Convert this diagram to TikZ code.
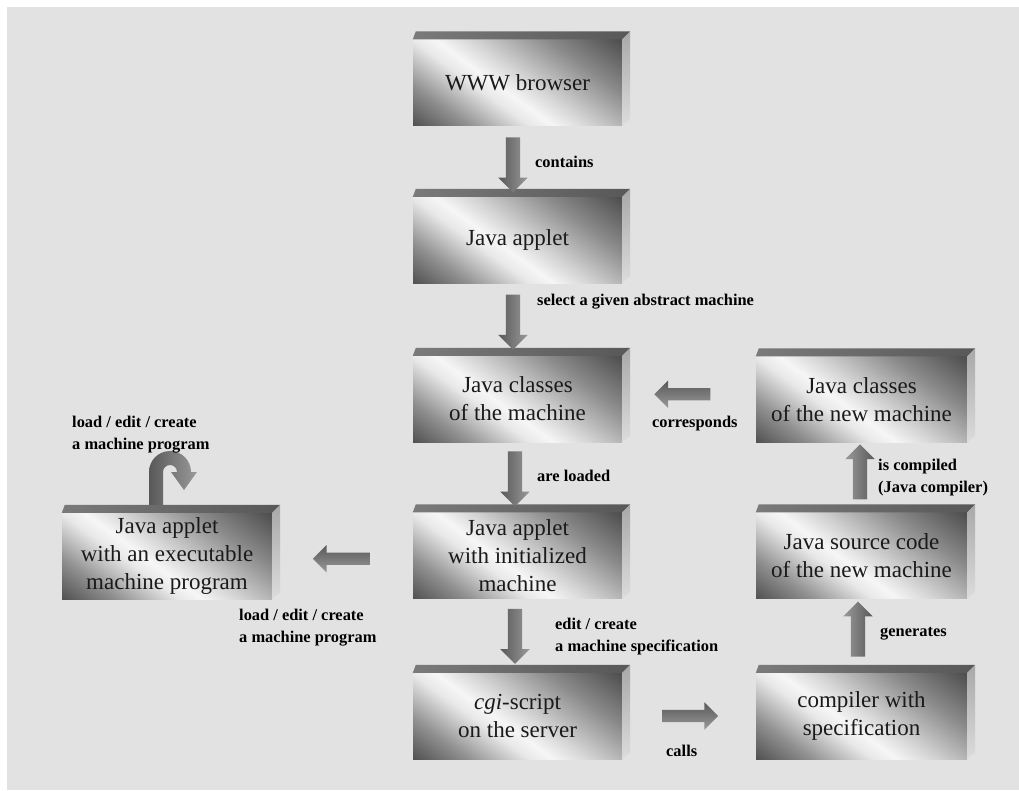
\documentclass[tikz,border=0pt]{standalone}
\usepackage{fontspec}
\setmainfont{Liberation Serif}
\usetikzlibrary{shapes.arrows,calc}
\definecolor{bg}{HTML}{E2E2E2}
\definecolor{c0}{HTML}{505050}
\definecolor{c1}{HTML}{909090}
\definecolor{c2}{HTML}{E8E8E8}
\definecolor{c3}{HTML}{F6F6F6}
\definecolor{c4}{HTML}{D4D4D4}
\definecolor{c5}{HTML}{8A8A8A}
\definecolor{c6}{HTML}{4C4C4C}
\definecolor{bevL}{HTML}{7A7A7A}
\definecolor{bevR}{HTML}{585858}
\definecolor{sideT}{HTML}{A8A8A8}
\definecolor{sideB}{HTML}{DCDCDC}
\definecolor{arD}{HTML}{585858}
\definecolor{arL}{HTML}{9A9A9A}
\definecolor{boxtext}{HTML}{1A1A1A}
\pgfdeclareverticalshading{boxshade}{100bp}{color(0bp)=(c0); color(15bp)=(c0); color(27bp)=(c1); color(40bp)=(c2); color(45bp)=(c3); color(53bp)=(c4); color(69bp)=(c5); color(85bp)=(c6); color(100bp)=(c6)}
\newcommand\boxbevel[1]{%
  \shade[left color=bevL, right color=bevR] (#1.north west) -- ([shift={(3,-8)}]#1.north west) -- ([shift={(8,-8)}]#1.north east) -- (#1.north east) -- cycle;
  \shade[top color=sideT, bottom color=sideB] (#1.north east) -- ([shift={(8,-8)}]#1.north east) -- ([shift={(8,-7)}]#1.south east) -- (#1.south east) -- cycle;
}
\begin{document}
\begin{tikzpicture}[x=1pt,y=-1pt,
  frontbox/.style={rectangle, shading=boxshade, shading angle=-36, minimum width=209pt, minimum height=86pt, inner sep=0pt, align=center, text=boxtext, font=\fontsize{23}{28}\selectfont},
  fatarrow/.style={single arrow, draw=none, minimum height=55pt, inner sep=7pt, single arrow head extend=7.5pt, single arrow head indent=0pt, single arrow tip angle=90, left color=arD, right color=arL},
  harrow/.style={single arrow, draw=none, minimum height=56pt, inner sep=6pt, single arrow head extend=7.5pt, single arrow head indent=0pt, single arrow tip angle=90, top color=arD, bottom color=arL},
  lbl/.style={anchor=west, align=left, inner sep=0pt, text=black, font=\bfseries\fontsize{16.4}{22}\selectfont}]
\useasboundingbox (0,0) rectangle (1019,790);
\fill[white] (0,0) rectangle (1019,790);
\fill[bg] (7,7) rectangle (1019,790);

% curved arrow (drawn first so the box covers its base)
\shade[left color=arD, right color=arL] (149,510) -- (149,472) arc[start angle=180, end angle=360, radius=21] -- (197,472) -- (184,490) -- (171,472) -- (177,472) arc[start angle=360, end angle=180, radius=7] -- (163,510) -- cycle;

% boxes
\node[frontbox] (b1) at (517.5,82.5) {WWW browser};
\node[frontbox] (b2) at (517.5,240) {Java applet};
\node[frontbox] (b3) at (517.5,399) {Java classes\\of the machine};
\node[frontbox] (b4) at (517.5,555.5) {Java applet\\with initialized\\machine};
\node[frontbox] (b5) at (517.5,716) {\textit{cgi}-script\\on the server};
\node[frontbox, minimum width=210pt] (L) at (167,556) {Java applet\\with an executable\\machine program};
\node[frontbox, minimum width=211pt] (r1) at (861.5,399.5) {Java classes\\of the new machine};
\node[frontbox, minimum width=211pt] (r2) at (861.5,555.5) {Java source code\\of the new machine};
\node[frontbox, minimum width=211pt] (r3) at (861.5,716) {compiler with\\specification};
\foreach \n in {b1,b2,b3,b4,b5,L,r1,r2,r3} {\boxbevel{\n}}

% block arrows
\node[fatarrow, shape border rotate=270] (a1) at ($(b1.south)!0.5!(b2.north)+(-4.5,0)$) {};
\node[fatarrow, shape border rotate=270] (a2) at ($(b2.south)!0.5!(b3.north)+(-4.5,-1)$) {};
\node[fatarrow, shape border rotate=270] (a3) at ($(b3.south)!0.5!(b4.north)+(-2.5,-2)$) {};
\node[fatarrow, shape border rotate=270] (a4) at ($(b4.south)!0.5!(b5.north)+(-2.5,-3)$) {};
\node[harrow, shape border rotate=180] (a5) at ($(b3.east)!0.5!(r1.west)+(-3.5,-5)$) {};
\node[harrow, shape border rotate=180, minimum height=57pt] (a6) at ($(L.east)!0.5!(b4.west)+(2,3)$) {};
\node[harrow] (a7) at ($(b5.east)!0.5!(r3.west)+(-2,0)$) {};
\node[fatarrow, shape border rotate=90, left color=arL, right color=arD] (a8) at ($(r2.north)!0.5!(r1.south)+(-1.5,-2)$) {};
\node[fatarrow, shape border rotate=90, left color=arL, right color=arD] (a9) at ($(r3.north)!0.5!(r2.south)+(-3.5,-3)$) {};

% labels
\node[lbl] (t1) at (535,162) {contains};
\node[lbl] (t2) at (537,302) {select a given abstract machine};
\node[lbl] (t3) at (652,424) {corresponds};
\node[lbl] (t4) at (537,476) {are loaded};
\node[lbl] (t5) at (72,435) {load / edit / create\\a machine program};
\node[lbl] (t6) at (239,627.5) {load / edit / create\\a machine program};
\node[lbl] (t7) at (555,636.5) {edit / create\\a machine specification};
\node[lbl] (t8) at (666,751) {calls};
\node[lbl] (t9) at (878,477.5) {is compiled\\(Java compiler)};
\node[lbl] (t10) at (880,634) {generates};
\end{tikzpicture}
\end{document}
